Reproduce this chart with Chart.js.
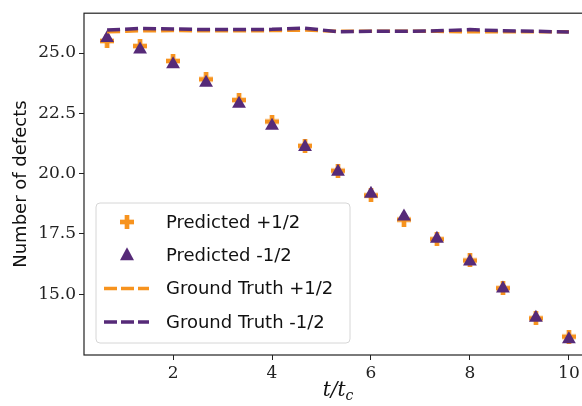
<!DOCTYPE html>
<html>
<head>
<meta charset="utf-8">
<script src="https://cdn.jsdelivr.net/npm/chart.js@4/dist/chart.umd.min.js"></script>
<style>
html, body { margin: 0; padding: 0; background: #fff; overflow: hidden; }
#contenedor { width: 600px; height: 406px; }
#grafico { display: block; }
</style>
</head>
<body>
<div id="contenedor"><canvas id="grafico" width="600" height="406"></canvas></div>
<script>
// tiempos t/tc
var tiempos = [0.667, 1.333, 2.0, 2.667, 3.333, 4.0, 4.667, 5.333, 6.0, 6.667, 7.333, 8.0, 8.667, 9.333, 10.0];
var predMas = [25.50, 25.29, 24.67, 23.91, 23.05, 22.16, 21.15, 20.12, 19.10, 18.09, 17.28, 16.40, 15.25, 14.00, 13.24];
var predMenos = [25.62, 25.15, 24.53, 23.77, 22.90, 21.98, 21.10, 20.08, 19.16, 18.22, 17.30, 16.36, 15.24, 14.02, 13.13];
var realMas = [25.88, 25.92, 25.93, 25.92, 25.92, 25.93, 25.95, 25.90, 25.90, 25.90, 25.90, 25.88, 25.88, 25.88, 25.88];
var realMenos = [25.95, 26.02, 26.00, 25.97, 25.97, 25.98, 26.03, 25.88, 25.90, 25.90, 25.92, 25.97, 25.92, 25.90, 25.87];
var ticksX = [2, 4, 6, 8, 10];
var ticksY = [15.0, 17.5, 20.0, 22.5, 25.0];
var etiquetas = ["Predicted +1/2", "Predicted -1/2", "Ground Truth +1/2", "Ground Truth -1/2"];

var naranja = "#f7931e";
var morado = "#562a78";

function puntos(valores)
{
    return tiempos.map(function(t, i){ return {x: t, y: valores[i]}; });
}

function crearMas(tam, color)
{
    var c = document.createElement("canvas");
    c.width = tam;
    c.height = tam;
    var ctx = c.getContext("2d");
    var b = tam / 3;
    ctx.fillStyle = color;
    ctx.fillRect(b, 0, b, tam);
    ctx.fillRect(0, b, tam, b);
    return c;
}

var marcaMas = crearMas(14, naranja);

function dibujarMarca(ctx, ds, x, y)
{
    if (ds.tipo === "mas") {
        ctx.drawImage(marcaMas, x - 7, y - 7);
    } else if (ds.tipo === "tri") {
        ctx.fillStyle = morado;
        ctx.beginPath();
        ctx.moveTo(x, y - 8);
        ctx.lineTo(x + 7, y + 5);
        ctx.lineTo(x - 7, y + 5);
        ctx.closePath();
        ctx.fill();
    } else {
        ctx.strokeStyle = ds.borderColor;
        ctx.lineWidth = 3.5;
        ctx.setLineDash([13, 4]);
        ctx.beginPath();
        ctx.moveTo(x - 23, y);
        ctx.lineTo(x + 22, y);
        ctx.stroke();
        ctx.setLineDash([]);
    }
}

var marcoYLeyenda = {
    id: "marcoYLeyenda",
    afterDraw: function(chart)
    {
        var ctx = chart.ctx;
        var a = chart.chartArea;
        ctx.save();
        ctx.strokeStyle = "#222";
        ctx.lineWidth = 1.2;
        ctx.strokeRect(a.left, a.top, a.right - a.left, a.bottom - a.top);

        // leyenda
        var x0 = 96, y0 = 203, w = 254, h = 140;
        ctx.fillStyle = "rgba(255,255,255,0.8)";
        ctx.strokeStyle = "#d6d6d6";
        ctx.lineWidth = 1;
        ctx.beginPath();
        ctx.roundRect(x0, y0, w, h, 4);
        ctx.fill();
        ctx.stroke();
        ctx.font = "18px 'DejaVu Sans'";
        ctx.textBaseline = "middle";
        chart.data.datasets.forEach(function(ds, i){
            var y = 222 + i * 33.3;
            dibujarMarca(ctx, ds, 127, y);
            ctx.fillStyle = "#111";
            ctx.fillText(ds.label, 166, y + 1);
        });

        // titulo eje x
        var cx = (a.left + a.right) / 2;
        var yb = 396;
        ctx.fillStyle = "#111";
        ctx.textBaseline = "alphabetic";
        ctx.font = "italic 20px 'DejaVu Serif'";
        var txt = "t/t";
        var ancho = ctx.measureText(txt).width;
        ctx.font = "italic 14px 'DejaVu Serif'";
        var anchoC = ctx.measureText("c").width;
        var inicio = cx - (ancho + anchoC) / 2;
        ctx.font = "italic 20px 'DejaVu Serif'";
        ctx.fillText(txt, inicio, yb);
        ctx.font = "italic 14px 'DejaVu Serif'";
        ctx.fillText("c", inicio + ancho, yb + 4);
        ctx.restore();
    }
};

var lineaDs = function(etiqueta, valores, color, orden)
{
    return {
        type: "line",
        label: etiqueta,
        data: puntos(valores),
        borderColor: color,
        borderWidth: 3.5,
        borderDash: [13, 5],
        pointRadius: 0,
        fill: false,
        tension: 0,
        tipo: "linea",
        order: orden
    };
};

new Chart(document.getElementById("grafico"), {
    type: "scatter",
    data: {
        datasets: [
            {
                label: etiquetas[0],
                data: puntos(predMas),
                pointStyle: marcaMas,
                backgroundColor: naranja,
                tipo: "mas",
                order: 4
            },
            {
                label: etiquetas[1],
                data: puntos(predMenos),
                pointStyle: "triangle",
                pointRadius: 8,
                backgroundColor: morado,
                borderColor: morado,
                borderWidth: 0,
                tipo: "tri",
                order: 3
            },
            lineaDs(etiquetas[2], realMas, naranja, 2),
            lineaDs(etiquetas[3], realMenos, morado, 1)
        ]
    },
    options: {
        responsive: false,
        devicePixelRatio: 1,
        animation: false,
        layout: { padding: { left: 0, top: 11, right: 8, bottom: 0 } },
        plugins: {
            legend: { display: false },
            tooltip: { enabled: false }
        },
        scales: {
            x: {
                type: "linear",
                min: 0.2,
                max: 10.467,
                afterBuildTicks: function(s){ s.ticks = ticksX.map(function(v){ return {value: v}; }); },
                afterFit: function(s){ s.height = 51; },
                grid: { drawOnChartArea: false, drawTicks: true, tickLength: 5, color: "#222" },
                border: { display: false },
                ticks: {
                    color: "#222",
                    font: { family: "DejaVu Serif", size: 17 },
                    padding: 3,
                    maxRotation: 0
                }
            },
            y: {
                type: "linear",
                min: 12.48,
                max: 26.65,
                afterBuildTicks: function(s){ s.ticks = ticksY.map(function(v){ return {value: v}; }); },
                afterFit: function(s){ s.width = 84; },
                grid: { drawOnChartArea: false, drawTicks: true, tickLength: 5, color: "#222" },
                border: { display: false },
                title: {
                    display: true,
                    text: "Number of defects",
                    color: "#111",
                    font: { family: "DejaVu Sans", size: 18 },
                    padding: { top: 11, bottom: 2 }
                },
                ticks: {
                    color: "#222",
                    font: { family: "DejaVu Serif", size: 17 },
                    padding: 3,
                    callback: function(v){ return Number(v).toFixed(1); }
                }
            }
        }
    },
    plugins: [marcoYLeyenda]
});
</script>
</body>
</html>
